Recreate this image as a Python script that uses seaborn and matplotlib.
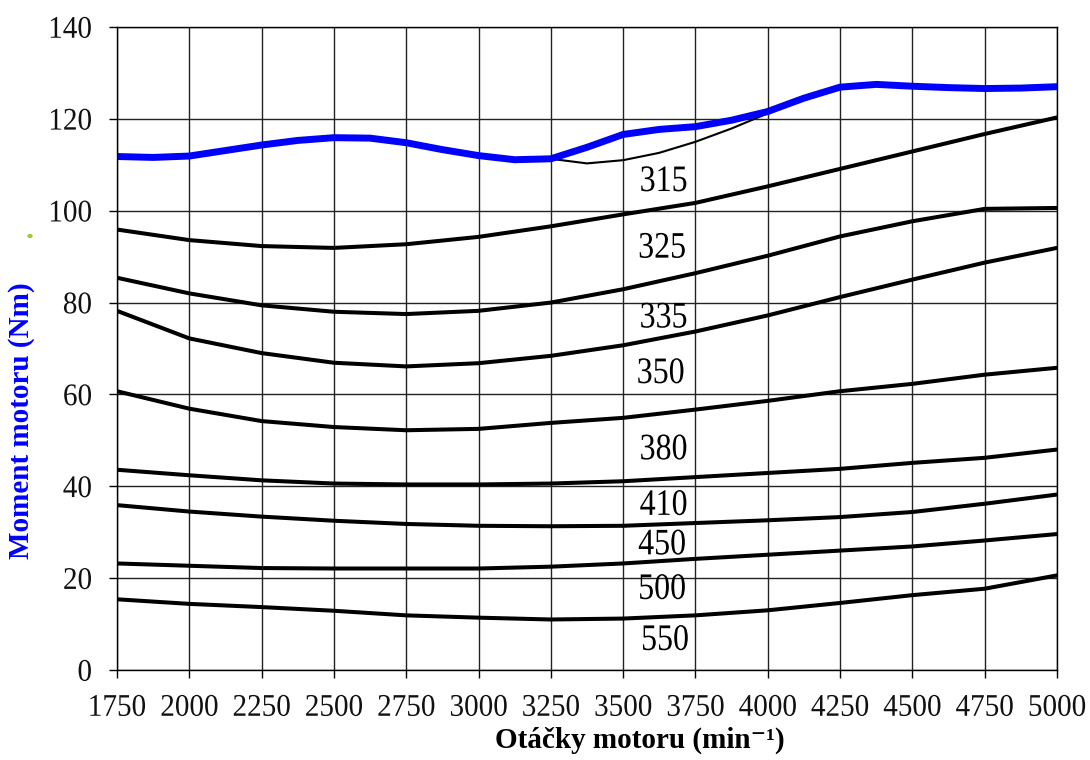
import matplotlib
matplotlib.use("Agg")
import matplotlib.pyplot as plt
import matplotlib.patches as mpatches
from matplotlib.patheffects import AbstractPathEffect
from matplotlib.transforms import Affine2D
import seaborn as sns

# ---- data ----
rpm_full = [1750, 1875, 2000, 2125, 2250, 2375, 2500, 2625, 2750, 2875, 3000, 3125, 3250,
            3375, 3500, 3625, 3750, 3875, 4000, 4125, 4250, 4375, 4500, 4625, 4750, 4875, 5000]
torque_max = [111.8, 111.6, 111.9, 113.1, 114.3, 115.3, 115.9, 115.8, 114.8, 113.3, 112.0, 111.1, 111.3,
              113.8, 116.6, 117.7, 118.3, 119.7, 121.6, 124.5, 126.9, 127.5, 127.1, 126.8, 126.6, 126.7, 127.0]

rpm_branch = [3250, 3375, 3500, 3625, 3750, 3875, 4000]
torque_branch = [111.3, 110.3, 111.0, 112.6, 115.0, 117.9, 121.2]

rpm = [1750, 2000, 2250, 2500, 2750, 3000, 3250, 3500, 3750, 4000, 4250, 4500, 4750, 5000]
curve_a = [95.9, 93.6, 92.3, 91.9, 92.7, 94.3, 96.6, 99.2, 101.7, 105.3, 109.1, 112.9, 116.7, 120.3]
curve_b = [85.4, 82.0, 79.4, 78.0, 77.5, 78.2, 80.0, 82.9, 86.4, 90.2, 94.4, 97.7, 100.4, 100.6]
curve_c = [78.2, 72.2, 69.0, 66.9, 66.1, 66.8, 68.4, 70.7, 73.7, 77.2, 81.2, 85.0, 88.7, 91.9]
curve_d = [60.7, 56.9, 54.2, 52.9, 52.2, 52.5, 53.8, 54.9, 56.7, 58.6, 60.7, 62.3, 64.3, 65.8]
curve_e = [43.6, 42.4, 41.3, 40.6, 40.4, 40.4, 40.6, 41.1, 42.0, 42.9, 43.8, 45.1, 46.2, 48.0]
curve_f = [35.9, 34.5, 33.4, 32.5, 31.8, 31.4, 31.3, 31.4, 32.0, 32.6, 33.3, 34.4, 36.2, 38.2]
curve_g = [23.2, 22.7, 22.2, 22.1, 22.1, 22.1, 22.5, 23.2, 24.2, 25.1, 26.0, 26.9, 28.2, 29.6]
curve_h = [15.4, 14.4, 13.7, 12.9, 11.9, 11.4, 11.0, 11.2, 11.9, 13.0, 14.6, 16.3, 17.7, 20.6]
black_curves = [curve_a, curve_b, curve_c, curve_d, curve_e, curve_f, curve_g, curve_h]

iso_labels = ["315", "325", "335", "350", "380", "410", "450", "500", "550"]
iso_label_x = [3640, 3635, 3640, 3630, 3640, 3640, 3635, 3635, 3645]
iso_label_y = [106.3, 91.8, 76.6, 64.5, 47.9, 35.8, 27.2, 17.5, 6.4]

x_ticks = list(range(1750, 5001, 250))
y_ticks = list(range(0, 141, 20))


class VStretch(AbstractPathEffect):
    """Stretch glyphs vertically about their centre (reference text is tall and narrow)."""

    def __init__(self, sy):
        super().__init__()
        self.sy = sy

    def draw_path(self, renderer, gc, tpath, affine, rgbFace=None):
        ext = tpath.get_extents()
        cy = (ext.y0 + ext.y1) / 2.0
        pre = Affine2D().translate(0, -cy).scale(1, self.sy).translate(0, cy)
        renderer.draw_path(gc, tpath, pre + affine, rgbFace)


# ---- style ----
sns.set_theme(style="white")
plt.rcParams['font.family'] = ['Liberation Serif', 'DejaVu Serif']

fig = plt.figure(figsize=(10.9, 7.6), dpi=100)
ax = fig.add_axes([0.1073, 0.1184, 0.8624, 0.8461])

for ys in black_curves:
    sns.lineplot(x=rpm, y=ys, ax=ax, color="black", linewidth=2.9,
                 estimator=None, sort=False, legend=False)
sns.lineplot(x=rpm_branch, y=torque_branch, ax=ax, color="black", linewidth=1.5,
             estimator=None, sort=False, legend=False)
sns.lineplot(x=rpm_full, y=torque_max, ax=ax, color="#0000FF", linewidth=5.0,
             estimator=None, sort=False, legend=False)

for t, x, y in zip(iso_labels, iso_label_x, iso_label_y):
    ax.text(x, y, t, ha="center", va="center", fontsize=23, color="black",
            path_effects=[VStretch(1.17)])

ax.set_xlim(1750, 5000)
ax.set_ylim(0, 140)
ax.set_xticks(x_ticks)
ax.set_yticks(y_ticks)
ax.grid(True, color="#222222", linewidth=1.0)
ax.set_axisbelow(True)
for s in ax.spines.values():
    s.set_color("black")
    s.set_linewidth(1.0)
ax.tick_params(axis="both", which="major", direction="out", length=6, width=1.0,
               color="black", labelsize=21, labelcolor="#111111", pad=12,
               left=True, bottom=True)
for lab in ax.get_xticklabels() + ax.get_yticklabels():
    lab.set_path_effects([VStretch(1.08)])

ax.set_xlabel("Otáčky motoru (min⁻¹)", fontsize=21, fontweight="bold", color="black")
ax.xaxis.set_label_coords(0.556, -0.088)
ax.set_ylabel("Moment motoru (Nm)", fontsize=21, fontweight="bold", color="#0000FF")
ax.yaxis.set_label_coords(-0.0872, 0.387)

fig.patches.append(mpatches.Circle((30 / 1090, 1 - 236 / 760), 0.0018,
                                   transform=fig.transFigure, color="#9ACD32"))

fig.savefig("out.png", dpi=100)
